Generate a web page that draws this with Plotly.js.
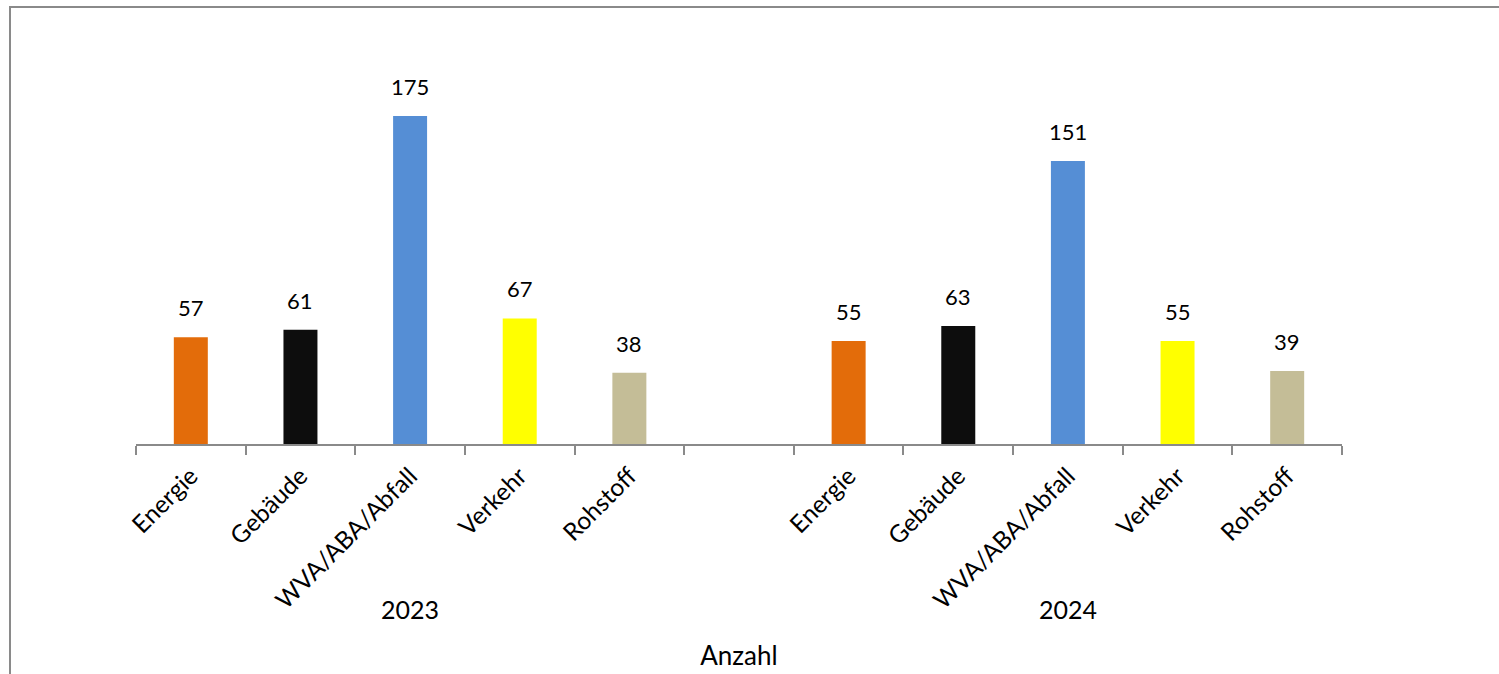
<!DOCTYPE html>
<html>
<head>
<meta charset="utf-8">
<script src="https://cdn.plot.ly/plotly-3.0.1.min.js"></script>
<style>
  html, body { margin: 0; padding: 0; background: #fff; overflow: hidden; }
  #chart { width: 1499px; height: 674px; }
</style>
</head>
<body>
<div id="chart"></div>
<script>
// Data
const categories = ["Energie", "Gebäude", "WVA/ABA/Abfall", "Verkehr", "Rohstoff"];
const years = ["2023", "2024"];
const values2023 = [57, 61, 175, 67, 38];
const values2024 = [55, 63, 151, 55, 39];
const barColors = ["#E36C0A", "#0D0D0D", "#558ED5", "#FFFF00", "#C4BD97"];
const axisTitle = "Anzahl";

// Slot layout: 5 categories, one empty slot, 5 categories
const xs = [], ys = [], cols = [], tickvals = [], ticktext = [];
const series = [values2023, values2024];
series.forEach((vals, g) => {
  vals.forEach((v, i) => {
    const x = g * (categories.length + 1) + i;
    xs.push(x); ys.push(v); cols.push(barColors[i]);
    tickvals.push(x); ticktext.push(categories[i]);
  });
});
const nSlots = categories.length * 2 + 1;
const font = "Lato, 'Open Sans', sans-serif";

const W = 1499, H = 674, L = 136, R = 157, T = 69, B = 229.5;
const plotW = W - L - R, plotH = H - T - B;
const px2x = p => (p - L) / plotW;          // pixel -> paper x
const px2y = p => (H - B - p) / plotH;      // pixel -> paper y

const annotations = xs.map((x, k) => ({
  x: x, y: ys[k], xref: "x", yref: "y", text: String(ys[k]),
  showarrow: false, yanchor: "bottom", yshift: 14,
  font: { family: font, size: 22, color: "#000" }
}));
years.forEach((yr, g) => {
  annotations.push({
    x: g * (categories.length + 1) + (categories.length - 1) / 2,
    y: px2y(627), xref: "x", yref: "paper", text: yr, showarrow: false,
    font: { family: font, size: 25, color: "#000" }
  });
});

const frameColor = "#8a8a8a";
const shapes = [
  { type: "line", xref: "paper", yref: "paper", x0: px2x(10), x1: px2x(10), y0: px2y(H + 5), y1: px2y(6),
    line: { color: frameColor, width: 2 } },
  { type: "line", xref: "paper", yref: "paper", x0: px2x(9), x1: px2x(W + 5), y0: px2y(7), y1: px2y(7),
    line: { color: frameColor, width: 2 } }
];

const trace = {
  type: "bar", x: xs, y: ys, width: 0.31,
  marker: { color: cols, line: { width: 0 } },
  hoverinfo: "skip"
};

const layout = {
  width: W, height: H,
  margin: { l: L, r: R, t: T, b: B },
  paper_bgcolor: "#fff", plot_bgcolor: "#fff",
  showlegend: false,
  font: { family: font, color: "#000" },
  xaxis: {
    range: [-0.5, nSlots - 0.5],
    tickmode: "array", tickvals: tickvals, ticktext: ticktext,
    tickangle: -45, ticks: "outside", ticklen: 6, tickcolor: "rgba(0,0,0,0)",
    tickfont: { family: font, size: 24.5, color: "#000" },
    showline: true, linecolor: frameColor, linewidth: 2,
    showgrid: false, zeroline: false,
    minor: { tickmode: "linear", tick0: -0.5, dtick: 1, ticks: "outside",
             ticklen: 9, tickwidth: 2, tickcolor: frameColor, showgrid: false },
    title: { text: axisTitle, standoff: 34, font: { family: font, size: 26, color: "#000" } },
    automargin: false, fixedrange: true
  },
  yaxis: {
    range: [0, 200], visible: false, showgrid: false, zeroline: false, fixedrange: true
  },
  shapes: shapes,
  annotations: annotations
};

Plotly.newPlot("chart", [trace], layout, { staticPlot: true, displayModeBar: false });
</script>
</body>
</html>
